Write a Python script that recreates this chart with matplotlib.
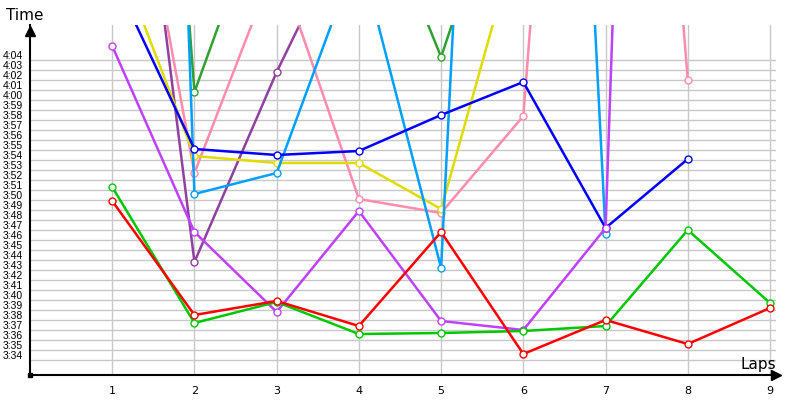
import matplotlib.pyplot as plt
from matplotlib.transforms import ScaledTranslation

# Данные: время круга в секундах (3:34 = 214 c), значения за пределами графика оценены по наклону линий

laps_red = [1, 2, 3, 4, 5, 6, 7, 8, 9]
red = [229.9, 218.5, 219.9, 217.4, 226.8, 214.6, 218.0, 215.6, 219.2]

laps_green = [1, 2, 3, 4, 5, 6, 7, 8, 9]
green = [231.3, 217.7, 219.8, 216.6, 216.7, 216.9, 217.4, 227.0, 219.7]

laps_violet = [1, 2, 3, 4, 5, 6, 7, 8]
violet = [245.4, 226.8, 218.8, 228.9, 217.9, 217.0, 227.2, 465.6]

laps_blue = [1, 2, 3, 4, 5, 6, 7, 8]
blue = [252.6, 235.1, 234.5, 234.9, 238.5, 241.8, 227.2, 234.1]

laps_yellow = [1, 2, 3, 4, 5, 6]
yellow = [255.8, 234.4, 233.7, 233.7, 229.1, 258.4]

laps_lightblue = [1, 2, 3, 4, 5, 6, 7]
lightblue = [462.0, 230.6, 232.7, 255.0, 223.2, 389.0, 226.6]

laps_darkgreen = [1, 2, 3, 4, 5, 6]
darkgreen = [350.8, 240.8, 263.5, 264.6, 244.3, 268.9]

laps_pink = [1, 2, 3, 4, 5, 6, 7, 8]
pink = [277.3, 232.7, 254.0, 230.1, 228.7, 238.4, 345.0, 242.0]

laps_purple = [1, 2, 3, 4]
purple = [289.5, 223.8, 242.8, 259.7]

tick_seconds = list(range(214, 245))
tick_labels = [f'{s // 60}:{s % 60:02d}' for s in tick_seconds]
lap_ticks = list(range(1, 10))

series = [
    (laps_purple, purple, '#9040A0'),
    (laps_darkgreen, darkgreen, '#30A030'),
    (laps_pink, pink, '#FF8CAA'),
    (laps_yellow, yellow, '#E0DC00'),
    (laps_lightblue, lightblue, '#00A0FF'),
    (laps_blue, blue, '#0000FF'),
    (laps_violet, violet, '#C040FF'),
    (laps_green, green, '#00C800'),
    (laps_red, red, '#FF0000'),
]

# Визуализация

fig = plt.figure(figsize=(8, 4), dpi=100)
ax = fig.add_axes([30 / 800, 25 / 400, 746 / 800, 350 / 400])

for x, y, c in series:
    ax.plot(x, y, color=c, lw=1.8, marker='o', ms=5, mfc='white', mec=c, mew=1)

ax.set_xlim(0, 746 / (740 / 9))
ax.set_ylim(212.5, 247.5)
ax.set_xticks(lap_ticks)
ax.set_yticks(tick_seconds)
ax.set_yticklabels(tick_labels, family='Liberation Sans', fontsize=7.5)
ax.set_xticklabels(lap_ticks, family='DejaVu Sans', fontsize=8)
ax.grid(True, color='#C8C8C8', lw=1)
ax.set_axisbelow(True)
ax.tick_params(axis='both', length=0)
ax.tick_params(axis='y', pad=5)
ax.tick_params(axis='x', pad=8)

for lbl in ax.get_yticklabels():
    lbl.set_transform(lbl.get_transform() + ScaledTranslation(0, 0.05, fig.dpi_scale_trans))

for side in ('top', 'right'):
    ax.spines[side].set_visible(False)
for side in ('left', 'bottom'):
    ax.spines[side].set_linewidth(1.5)
    ax.spines[side].set_color('black')

# Стрелки осей и точка в начале координат
ax.plot([0], [1 - 6 / 350], marker='^', ms=7, color='black', transform=ax.transAxes, clip_on=False)
ax.plot([1.0], [0], marker='>', ms=7, color='black', transform=ax.transAxes, clip_on=False)
ax.plot([0], [0], marker='s', ms=3, color='black', transform=ax.transAxes, clip_on=False)

fig.text(25 / 800, 1 - 15 / 400, 'Time', fontsize=11, ha='center', va='center')
fig.text(758 / 800, 1 - 364 / 400, 'Laps', fontsize=11, ha='center', va='center')

fig.savefig('out.png', dpi=100)
